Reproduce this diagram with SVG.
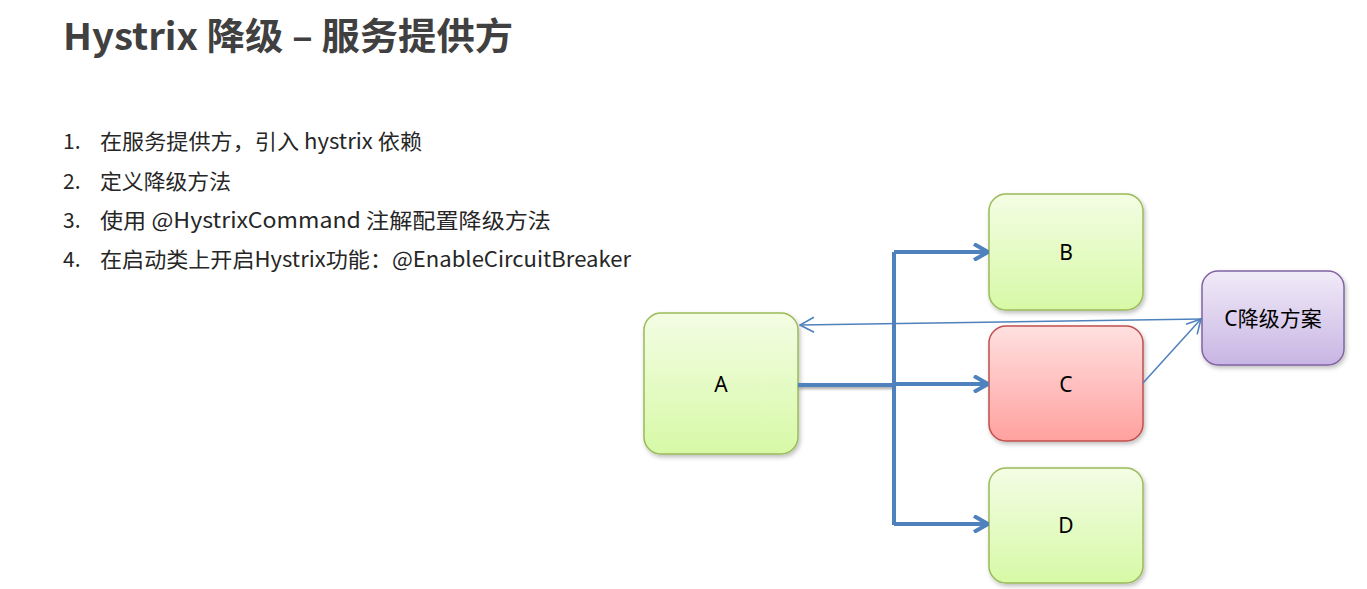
<svg xmlns="http://www.w3.org/2000/svg" width="1367" height="589" viewBox="0 0 1367 589">
<defs>
<style>
.title{font-family:"Noto Sans CJK SC","Noto Sans",sans-serif;font-weight:bold;font-size:37px;fill:#404040}
.item{font-family:"Noto Sans CJK SC","Noto Sans",sans-serif;font-size:21px;fill:#262626}
.lbl{font-family:"Noto Sans","Noto Sans CJK SC",sans-serif;font-size:21px;fill:#000;text-anchor:middle;dominant-baseline:central}
.green{fill:url(#gGreen);stroke:#9bbb59;stroke-width:1.5}
.red{fill:url(#gRed);stroke:#c0504d;stroke-width:1.5}
.purple{fill:url(#gPurple);stroke:#8064a2;stroke-width:1.5}
.thick{fill:none;stroke:#4f81bd;stroke-width:4}
.thin{fill:none;stroke:#4f81bd;stroke-width:1.5}
</style>
<linearGradient id="gGreen" x1="0" y1="0" x2="0" y2="1"><stop offset="0" stop-color="#f3fde4"/><stop offset="1" stop-color="#d7f9a6"/></linearGradient>
<linearGradient id="gRed" x1="0" y1="0" x2="0" y2="1"><stop offset="0" stop-color="#ffe0e0"/><stop offset="1" stop-color="#ffa19f"/></linearGradient>
<linearGradient id="gPurple" x1="0" y1="0" x2="0" y2="1"><stop offset="0" stop-color="#f1ebf8"/><stop offset="1" stop-color="#c8b5e3"/></linearGradient>
<filter id="sh" x="-10%" y="-10%" width="130%" height="130%"><feDropShadow dx="1.5" dy="2.5" stdDeviation="2" flood-color="#000" flood-opacity="0.25"/></filter>
<filter id="shL" filterUnits="userSpaceOnUse" x="780" y="370" width="130" height="30"><feDropShadow dx="1" dy="2" stdDeviation="1.5" flood-color="#000" flood-opacity="0.35"/></filter>
<marker id="openBig" viewBox="0 0 16 18" refX="15" refY="9" markerWidth="16" markerHeight="18" markerUnits="userSpaceOnUse" orient="auto"><path d="M1,1 L15,9 L1,17" fill="none" stroke="#4f81bd" stroke-width="4" stroke-linejoin="miter"/></marker>
<marker id="openThin" viewBox="0 0 16 18" refX="15" refY="9" markerWidth="16" markerHeight="18" markerUnits="userSpaceOnUse" orient="auto"><path d="M1,1.5 L15,9 L1,16.5" fill="none" stroke="#4f81bd" stroke-width="1.6"/></marker>
</defs>
<rect width="1367" height="589" fill="#fff"/>
<text class="title" x="63" y="50" textLength="450" lengthAdjust="spacingAndGlyphs">Hystrix 降级 – 服务提供方</text>
<g id="list">
<text class="item" x="63" y="149">1.</text><text class="item" x="100" y="149" textLength="322" lengthAdjust="spacingAndGlyphs">在服务提供方，引入 hystrix 依赖</text>
<text class="item" x="63" y="189">2.</text><text class="item" x="100" y="189" textLength="131" lengthAdjust="spacingAndGlyphs">定义降级方法</text>
<text class="item" x="63" y="228">3.</text><text class="item" x="100" y="228" textLength="451" lengthAdjust="spacingAndGlyphs">使用 @HystrixCommand 注解配置降级方法</text>
<text class="item" x="63" y="267">4.</text><text class="item" x="100" y="267" textLength="531" lengthAdjust="spacingAndGlyphs">在启动类上开启Hystrix功能：@EnableCircuitBreaker</text>
</g>
<g id="nodeA"><rect class="green" filter="url(#sh)" x="644" y="313" width="154" height="141" rx="17"/><text class="lbl" x="721" y="384">A</text></g>
<g id="nodeB"><rect class="green" filter="url(#sh)" x="989" y="194" width="154" height="116" rx="17"/><text class="lbl" x="1066" y="252">B</text></g>
<g id="nodeC"><rect class="red" filter="url(#sh)" x="989" y="326" width="154" height="115" rx="17"/><text class="lbl" x="1066" y="384">C</text></g>
<g id="nodeD"><rect class="green" filter="url(#sh)" x="989" y="468" width="154" height="115" rx="17"/><text class="lbl" x="1066" y="525">D</text></g>
<g id="nodeCfb"><rect class="purple" filter="url(#sh)" x="1202" y="271" width="142" height="94" rx="16"/><text class="lbl" x="1273" y="318">C降级方案</text></g>
<g id="connectors">
<path class="thick" filter="url(#shL)" d="M798,385 H894"/>
<path class="thick" d="M894,252 V525"/>
<path class="thick" marker-end="url(#openBig)" d="M894,252 H988"/>
<path class="thick" marker-end="url(#openBig)" d="M894,384 H988"/>
<path class="thick" marker-end="url(#openBig)" d="M894,524 H988"/>
<path class="thin" marker-end="url(#openThin)" d="M1202,319 L800,325"/>
<path class="thin" marker-end="url(#openThin)" d="M1143,383 L1201,319"/>
</g>
</svg>
